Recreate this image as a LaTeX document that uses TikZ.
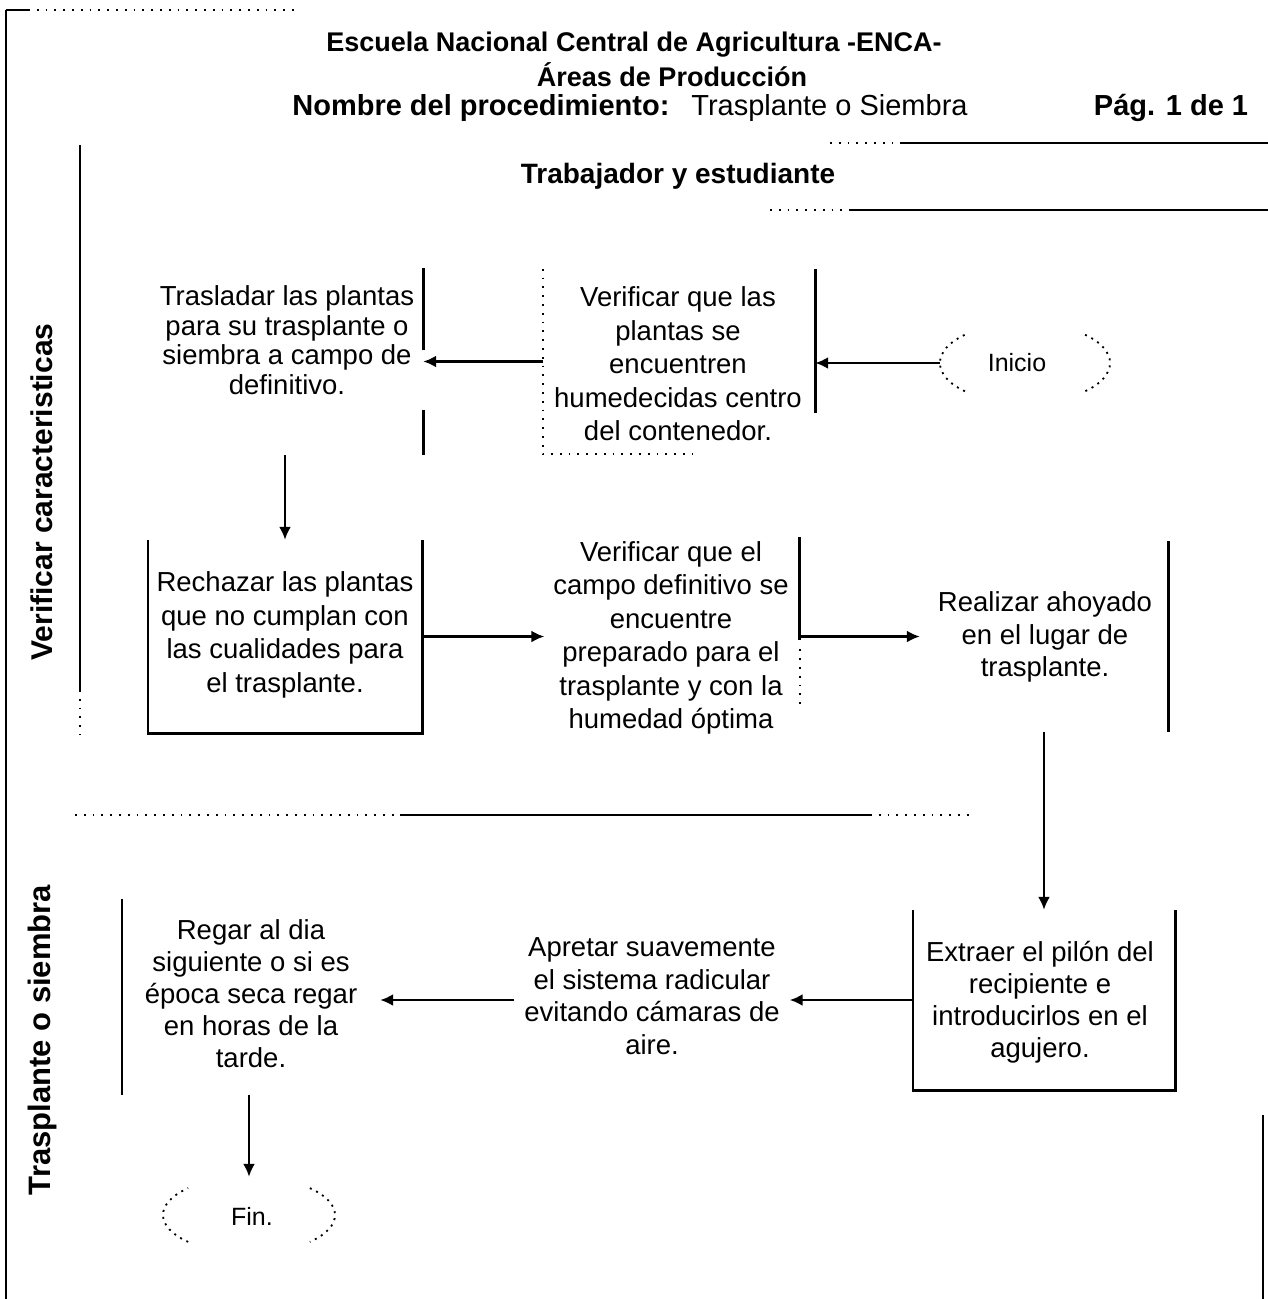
\documentclass[tikz,border=0pt]{standalone}
\usepackage{fontspec}
\setmainfont{Liberation Sans}
\usetikzlibrary{arrows.meta,shapes.geometric}
\begin{document}
\begin{tikzpicture}[x=1pt,y=-1pt,
  area/.style={rectangle,draw=none,inner sep=0pt},
  termarea/.style={ellipse,draw=none,inner sep=0pt,minimum width=170pt,minimum height=80pt},
  txt/.style={align=center,inner sep=0pt,font=\fontsize{27.5}{33.5}\selectfont},
  head/.style={inner sep=0pt,font=\fontsize{27}{32}\selectfont\bfseries},
  lanelabel/.style={inner sep=0pt,rotate=90,font=\fontsize{30}{32}\selectfont\bfseries},
  rim/.style={line width=2.6pt},
  faint/.style={line width=1.8pt,dash pattern=on 1.8pt off 7pt},
  flow/.style={line width=2.4pt,-{Latex[length=13pt,width=12pt]}},
  termarc/.style={line width=1.8pt,dash pattern=on 2pt off 5pt}
]
\useasboundingbox (0,0) rectangle (1268,1299);

% page frame and lane rules
\draw[rim] (6,10) -- (6,1299);
\draw[rim] (6,10) -- (28,10);
\draw[faint] (28,10) -- (300,10);
\draw[faint] (830,143) -- (900,143);
\draw[rim] (900,143) -- (1268,143);
\draw[faint] (770,210) -- (850,210);
\draw[rim] (850,210) -- (1268,210);
\draw[rim] (80,145) -- (80,690);
\draw[faint] (80,690) -- (80,735);
\draw[faint] (75,815) -- (400,815);
\draw[rim] (400,815) -- (870,815);
\draw[faint] (870,815) -- (975,815);
\draw[rim] (1263,1115) -- (1263,1299);

% header
\node[head] (t1) at (634,45) {Escuela Nacional Central de Agricultura -ENCA-};
\node[head] (t2) at (672,75) {Áreas de Producción};
\node[inner sep=0pt,font=\fontsize{29}{32}\selectfont] (t3) at (630,108)
  {\bfseries Nombre del procedimiento:\mdseries\hspace{22pt}Trasplante o Siembra};
\node[head,font=\fontsize{29}{32}\selectfont\bfseries] (t4) at (1171,108) {Pág. 1 de 1};
\node[head,font=\fontsize{28}{32}\selectfont\bfseries] (lane) at (678,176) {Trabajador y estudiante};
\node[lanelabel] (l1) at (42,492) {Verificar caracteristicas};
\node[lanelabel,font=\fontsize{31}{32}\selectfont\bfseries] (l2) at (42,1040) {Trasplante o siembra};

% step areas
\node[area,minimum width=268pt,minimum height=187pt] (b1) at (289,361.5) {};
\node[area,minimum width=272pt,minimum height=185pt] (b2) at (679,361.5) {};
\node[area,minimum width=274pt,minimum height=193pt] (b3) at (285,636.5) {};
\node[area,minimum width=255pt,minimum height=198pt] (b4) at (672,636.5) {};
\node[area,minimum width=248pt,minimum height=190pt] (b5) at (1044,636.5) {};
\node[area,minimum width=262pt,minimum height=180pt] (b6) at (1044,1000) {};
\node[area,minimum width=275pt,minimum height=188pt] (b7) at (652,1006) {};
\node[area,minimum width=258pt,minimum height=195pt] (b8) at (251,997) {};
\node[termarea] (ini) at (1025,363) {};
\node[termarea,minimum width=172pt,minimum height=76pt] (fin) at (249,1215) {};

% step texts
\node[txt,font=\fontsize{27.5}{29.5}\selectfont] (b1t) at (287,340)
  {Trasladar las plantas\\para su trasplante o\\siembra a campo de\\definitivo.};
\node[txt] (b2t) at (678,364)
  {Verificar que las\\plantas se\\encuentren\\humedecidas centro\\del contenedor.};
\node[txt] (b3t) at (285,635)
  {Rechazar las plantas\\que no cumplan con\\las cualidades para\\el trasplante.};
\node[txt] (b4t) at (671,638)
  {Verificar que el\\campo definitivo se\\encuentre\\preparado para el\\trasplante y con la\\humedad óptima};
\node[txt,font=\fontsize{27.5}{32.5}\selectfont] (b5t) at (1045,637)
  {Realizar ahoyado\\en el lugar de\\trasplante.};
\node[txt,font=\fontsize{27.5}{32}\selectfont] (b6t) at (1040,1002)
  {Extraer el pilón del\\recipiente e\\introducirlos en el\\agujero.};
\node[txt,font=\fontsize{27.5}{32.5}\selectfont] (b7t) at (652,996)
  {Apretar suavemente\\el sistema radicular\\evitando cámaras de\\aire.};
\node[txt,font=\fontsize{27.5}{32}\selectfont] (b8t) at (251,994)
  {Regar al dia\\siguiente o si es\\época seca regar\\en horas de la\\tarde.};
\node[inner sep=0pt,font=\fontsize{25}{30}\selectfont] (init) at (1017,363) {Inicio};
\node[inner sep=0pt,font=\fontsize{25}{30}\selectfont] (fint) at (252,1216) {Fin.};

% visible box rims
\draw[rim] (b1.north east) -- ++(0,82);
\draw[rim] (b1.south east) -- ++(0,-45);
\draw[faint] (b2.north west) -- (b2.south west) -- ++(150,0);
\draw[rim] (b2.north east) -- ++(0,144);
\draw[rim] (b3.north west) -- (b3.south west) -- (b3.south east) -- (b3.north east);
\draw[rim] (b4.north east) -- ++(0,103);
\draw[faint] (b4.north east) ++(0,112) -- ++(0,55);
\draw[rim,line width=3.4pt] (b5.north east) -- (b5.south east);
\draw[rim] (b6.north west) -- (b6.south west) -- (b6.south east) -- (b6.north east);
\draw[rim] (b8.north west) -- (b8.south west);

% terminal ends
\draw[termarc] (ini.center) ++(135:85 and 40) arc[start angle=135,end angle=225,x radius=85,y radius=40];
\draw[termarc] (ini.center) ++(-45:85 and 40) arc[start angle=-45,end angle=45,x radius=85,y radius=40];
\draw[termarc] (fin.center) ++(135:86 and 38) arc[start angle=135,end angle=225,x radius=86,y radius=38];
\draw[termarc] (fin.center) ++(-45:86 and 38) arc[start angle=-45,end angle=45,x radius=86,y radius=38];

% flow
\draw[flow] (ini.west) -- (b2.east |- ini.west);
\draw[flow] (b2.west) -- (b1.east);
\draw[flow] (b1.south -| b3.north) -- (b3.north);
\draw[flow] (b3.east) -- (b3.east -| b4.west);
\draw[flow] (b4.east) -- (b4.east -| b5.west);
\draw[flow] (b5.south) -- (b6.north);
\draw[flow] (b6.west) -- (b6.west -| b7.east);
\draw[flow] (b6.west -| b7.west) -- (b6.west -| b8.east);
\draw[flow] (b8.south -| fin.north) -- (fin.north);
\end{tikzpicture}
\end{document}
